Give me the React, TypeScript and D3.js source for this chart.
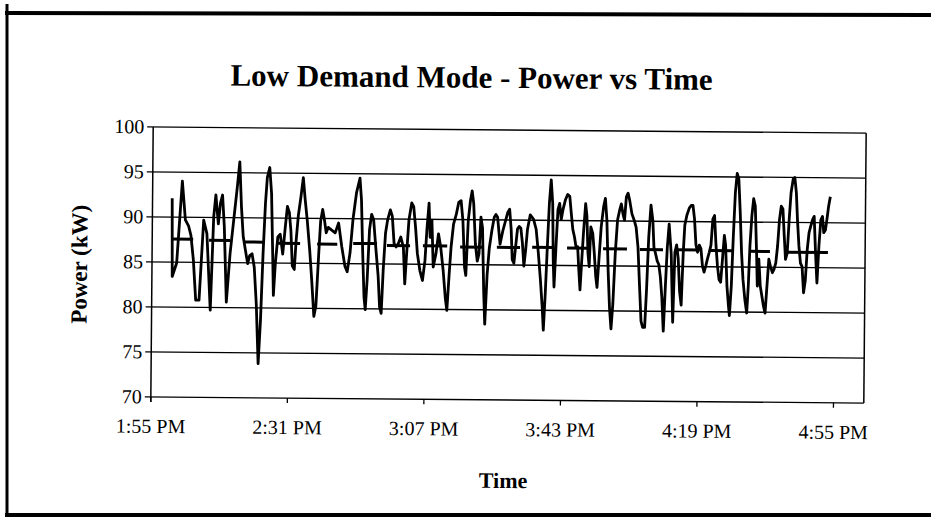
import React from "react";
import * as d3 from "d3";

// ---- data (minutes after 1:55 PM, power in kW) ----
const START = new Date(2000, 0, 1, 13, 55);
const AXIS_END_MIN = 188;
const yTicks = [70, 75, 80, 85, 90, 95, 100];
const xTickMinutes = [0, 36, 72, 108, 144, 180];

const powerMinutes = [
  5.18, 5.36, 6.5, 7.82, 8.7, 9.58, 10.19, 10.89, 11.6, 12.48, 13.53, 14.41, 15.46, 16.17, 16.69, 17.4, 17.92, 18.45, 18.98, 19.68,
  20.56, 21.44, 22.32, 22.93, 23.46, 23.99, 24.6, 25.22, 25.74, 26.36, 26.97, 27.59, 28.2, 28.73, 29.26, 29.78, 30.22, 30.84, 31.37, 31.8,
  32.07, 32.51, 33.12, 33.74, 34.44, 35.06, 35.58, 36.11, 36.55, 36.99, 37.52, 37.95, 38.48, 39.1, 39.71, 40.24, 40.85, 41.56, 42.17, 42.79,
  43.31, 43.93, 44.37, 44.89, 45.42, 45.86, 46.39,
  48.23, 49.11, 49.99, 50.87, 51.48, 52.19, 52.89, 53.77, 54.65, 55.09, 55.53, 55.97, 56.32, 56.76, 57.28, 57.81, 58.34, 58.95, 59.66, 60.1,
  60.53, 60.97, 61.5, 62.03, 62.73, 63.26, 63.78, 64.31, 64.93, 65.54, 66.24, 66.68, 67.12, 67.65, 68.35, 68.88, 69.41, 69.94, 70.64, 71.34,
  71.96, 72.4, 72.92, 73.27, 73.71, 74.15, 74.85, 75.47, 76.09, 76.79, 77.4, 77.84, 78.37, 78.81, 79.42, 80.13, 80.74, 81.36, 81.88, 82.41,
  82.76, 83.29, 83.82, 84.26, 84.69, 85.22, 85.75, 86.19, 86.63, 87.07, 87.51, 87.86, 88.38, 88.91, 89.53, 90.14, 90.58, 91.02, 91.72, 92.43,
  93.66, 94.18, 94.62, 94.97, 95.41, 95.85, 96.29, 96.73, 97.17, 97.61, 98.05, 98.49, 98.93, 99.63, 100.51, 101.21, 101.83, 102.44, 102.97, 103.32,
  103.76, 104.2, 104.64, 105.08, 105.52, 105.78, 106.04, 106.48, 106.92, 107.36, 107.8, 108.24, 108.86, 109.47, 110.0, 110.44, 110.88, 111.32, 111.75, 112.19,
  112.55, 112.9, 113.25, 113.69, 114.21, 114.57, 114.92, 115.27, 115.62, 116.15, 116.59, 117.03, 117.38, 117.82, 118.35, 118.96, 119.4, 119.84, 120.28, 120.72,
  121.16, 121.6, 122.12, 122.65, 123.18, 123.62, 124.06, 124.49, 124.93, 125.37, 125.81, 126.43, 127.04, 127.57, 128.1, 128.62, 129.06, 129.5, 130.03, 130.47,
  130.91, 131.44, 131.96, 132.31, 132.75, 133.19, 133.63, 134.07, 134.51, 134.95, 135.39, 135.83, 136.27, 136.88,
  137.41, 137.85, 138.29, 138.73, 139.17, 139.61, 140.05, 140.4, 140.92, 141.54, 142.07, 142.51, 142.94, 143.38, 143.82, 144.26, 144.7, 145.14, 145.58, 146.02,
  146.46, 146.9, 147.34, 147.78, 148.22, 148.66, 149.09, 149.53, 149.97, 150.41, 150.85, 151.2, 151.64, 152.08, 152.35, 152.79, 153.22, 153.66, 154.1, 154.54,
  154.98, 155.42, 155.86, 156.39, 156.91, 157.27, 157.62, 158.06, 158.5, 158.94, 159.38, 159.64, 159.99, 160.43, 160.87, 161.31, 161.75, 162.19, 162.63, 163.06,
  163.59, 164.03, 164.47, 164.91, 165.35, 165.79, 166.23, 166.58, 167.02, 167.46, 167.9, 168.34, 168.87, 169.3, 169.74, 170.09, 170.53, 170.97, 171.41, 171.85,
  172.29, 172.73, 173.17, 173.61, 174.05, 174.49, 174.93, 175.36, 175.8, 176.24, 176.68, 177.04, 177.48, 177.83, 178.26, 178.7,
];

const powerKW = [
  92.1, 83.4, 84.9, 94.0, 89.7, 89.0, 88.0, 85.3, 80.8, 80.8, 89.7, 88.2, 79.7, 90.1, 92.5, 89.3, 91.6, 92.5, 89.0, 80.6,
  86.0, 89.7, 93.4, 96.2, 91.2, 87.9, 86.4, 84.9, 85.8, 86.0, 84.5, 80.4, 73.8, 78.6, 86.0, 91.6, 94.5, 95.6, 92.7, 86.0,
  81.4, 84.9, 87.9, 88.2, 86.0, 89.0, 91.3, 90.6, 88.6, 84.7, 84.3, 87.5, 90.3, 92.3, 94.5, 92.1, 89.7, 86.4, 83.0, 79.1,
  80.3, 86.0, 89.7, 91.0, 89.7, 88.4, 89.0,
  88.4, 89.5, 86.9, 84.7, 84.1, 86.2, 89.9, 92.9, 94.5, 92.1, 86.2, 81.3, 79.9, 83.2, 88.8, 90.5, 89.9, 86.9, 83.6, 80.2,
  79.5, 84.3, 88.4, 89.9, 91.0, 90.3, 87.3, 86.9, 87.3, 88.0, 86.9, 82.8, 86.2, 89.9, 91.8, 91.4, 89.1, 86.2, 84.3, 83.2,
  85.4, 88.8, 91.8, 88.0, 89.9, 84.7, 86.2, 88.4, 86.9, 84.3, 81.3, 79.9, 83.9, 86.9, 89.5, 90.6, 91.9, 92.1, 89.9, 84.7,
  83.8, 89.9, 92.1, 93.2, 91.8, 87.3, 85.4, 86.2, 90.3, 89.1, 82.1, 78.4, 83.9, 86.9, 88.8, 90.3, 90.6, 90.3, 87.3, 88.8,
  90.8, 91.2, 89.0, 85.6, 85.2, 87.1, 89.0, 89.3, 89.1, 87.5, 84.9, 86.7, 89.0, 90.6, 90.1, 89.0, 86.4, 83.4, 80.4, 77.8,
  81.9, 87.1, 91.9, 94.5, 91.9, 85.6, 82.6, 87.1, 91.2, 91.9, 90.1, 91.2, 92.3, 92.9, 92.7, 90.8, 89.0, 88.2, 87.1, 87.1,
  84.5, 82.3, 85.2, 88.6, 91.9, 90.5, 86.4, 84.9, 89.3, 88.6, 86.4, 83.8, 82.6, 85.6, 89.3, 91.6, 92.5, 90.1, 84.5, 80.4,
  78.0, 80.8, 86.4, 90.1, 91.2, 91.9, 90.8, 90.1, 92.7, 93.1, 92.3, 90.8, 90.1, 89.3, 87.1, 82.6, 78.9, 78.2, 78.2, 82.6,
  88.2, 91.8, 90.1, 87.1, 86.4, 85.6, 85.2, 83.8, 81.5, 77.8, 82.6, 87.1, 89.7, 86.4,
  78.8, 86.6, 87.4, 85.9, 82.2, 80.7, 86.6, 89.6, 90.7, 91.5, 91.8, 91.8, 90.3, 87.4, 86.6, 87.4, 87.0, 85.1, 84.4, 85.1,
  85.9, 86.6, 87.4, 90.3, 90.7, 87.4, 85.1, 83.6, 83.3, 85.9, 88.5, 87.4, 82.9, 80.7, 79.6, 82.9, 88.5, 93.3, 95.4, 94.8,
  91.1, 86.6, 83.6, 81.4, 79.9, 82.9, 87.4, 90.7, 92.6, 91.8, 86.6, 82.9, 85.9, 82.9, 81.8, 80.7, 79.9, 82.9, 85.9, 85.1,
  84.4, 84.8, 85.5, 87.4, 90.3, 91.8, 91.5, 88.9, 85.9, 86.6, 90.3, 93.3, 94.8, 95.0, 93.3, 90.3, 87.4, 85.5, 85.1, 82.2,
  83.6, 87.0, 88.9, 89.6, 90.3, 90.7, 86.6, 83.3, 87.4, 90.3, 90.7, 88.9, 89.2, 90.3, 91.8, 92.9,
];

// average power per block
const avgStartMin = [5.3, 15.0, 24.0, 32.9, 43.5, 53.0, 61.9, 71.4, 81.2, 90.9, 100.2, 109.4, 118.9, 128.6, 138.4, 147.1, 157.6, 167.4];
const avgEndMin = [10.8, 20.6, 29.3, 39.0, 48.8, 59.3, 68.0, 77.8, 87.2, 97.0, 105.7, 115.4, 125.2, 134.7, 144.4, 153.1, 162.9, 178.2];
const avgKW = [87.55, 87.45, 87.3, 87.2, 87.15, 87.25, 87.05, 87.05, 86.95, 86.95, 87.0, 86.95, 86.9, 86.85, 86.85, 86.8, 86.75, 86.7];

const TITLE = "Low Demand Mode - Power vs Time";
const X_TITLE = "Time";
const Y_TITLE = "Power (kW)";

const W = 931;
const H = 517;
const M = { left: 152, right: 865, top: 130, bottom: 400 };
const FONT = "'Liberation Serif', 'Times New Roman', serif";

const at = (m: number) => new Date(START.getTime() + m * 60000);

export default function App() {
  const x = d3.scaleTime().domain([START, at(AXIS_END_MIN)]).range([M.left, M.right]);
  const y = d3.scaleLinear().domain([70, 100]).range([M.bottom, M.top]);
  const fmt = d3.timeFormat("%-I:%M %p");

  const pts: [Date, number][] = powerMinutes.map((m, i) => [at(m), powerKW[i]]);
  const line = d3
    .line<[Date, number]>()
    .x((d) => x(d[0]))
    .y((d) => y(d[1]));

  return (
    <svg width={W} height={H} style={{ position: "absolute", left: 0, top: 0, background: "#fff" }}>
      {/* outer frame */}
      <line x1={7} y1={4} x2={7} y2={515} stroke="#000" strokeWidth={3} />
      <line x1={5} y1={13} x2={931} y2={15} stroke="#000" strokeWidth={4} />
      <line x1={5} y1={515} x2={931} y2={515} stroke="#000" strokeWidth={4} />

      <g transform="rotate(0.5 508 265)" fontFamily={FONT}>
        <text x={470} y={88} textAnchor="middle" fontSize={31} fontWeight="bold">
          {TITLE}
        </text>

        {/* gridlines */}
        {yTicks.map((t) => (
          <line key={"g" + t} x1={M.left - 6} x2={M.right} y1={y(t)} y2={y(t)} stroke="#000" strokeWidth={1.3} />
        ))}
        {/* plot border */}
        <line x1={M.left} x2={M.left} y1={M.top} y2={M.bottom + 5} stroke="#000" strokeWidth={1.5} />
        <line x1={M.right} x2={M.right} y1={M.top} y2={M.bottom} stroke="#000" strokeWidth={1.5} />

        {yTicks.map((t) => (
          <text key={"yl" + t} x={M.left - 9} y={y(t) + 6.5} textAnchor="end" fontSize={20}>
            {t}
          </text>
        ))}

        {xTickMinutes.map((m) => (
          <g key={"xt" + m}>
            <line x1={x(at(m))} x2={x(at(m))} y1={M.bottom} y2={M.bottom + 5} stroke="#000" strokeWidth={1.3} />
            <text x={x(at(m))} y={M.bottom + 36} textAnchor="middle" fontSize={20}>
              {fmt(at(m))}
            </text>
          </g>
        ))}

        <text x={505} y={488} textAnchor="middle" fontSize={22} fontWeight="bold">
          {X_TITLE}
        </text>
        <text
          transform={`translate(87, 268) rotate(-90)`}
          textAnchor="middle"
          fontSize={23}
          fontWeight="bold"
        >
          {Y_TITLE}
        </text>

        {/* power line */}
        <path d={line(pts) ?? ""} fill="none" stroke="#000" strokeWidth={2.8} strokeLinejoin="round" />

        {/* averages */}
        {avgKW.map((v, i) => (
          <line
            key={"a" + i}
            x1={x(at(avgStartMin[i]))}
            x2={x(at(avgEndMin[i]))}
            y1={y(v)}
            y2={y(v)}
            stroke="#000"
            strokeWidth={3}
          />
        ))}
      </g>
    </svg>
  );
}
